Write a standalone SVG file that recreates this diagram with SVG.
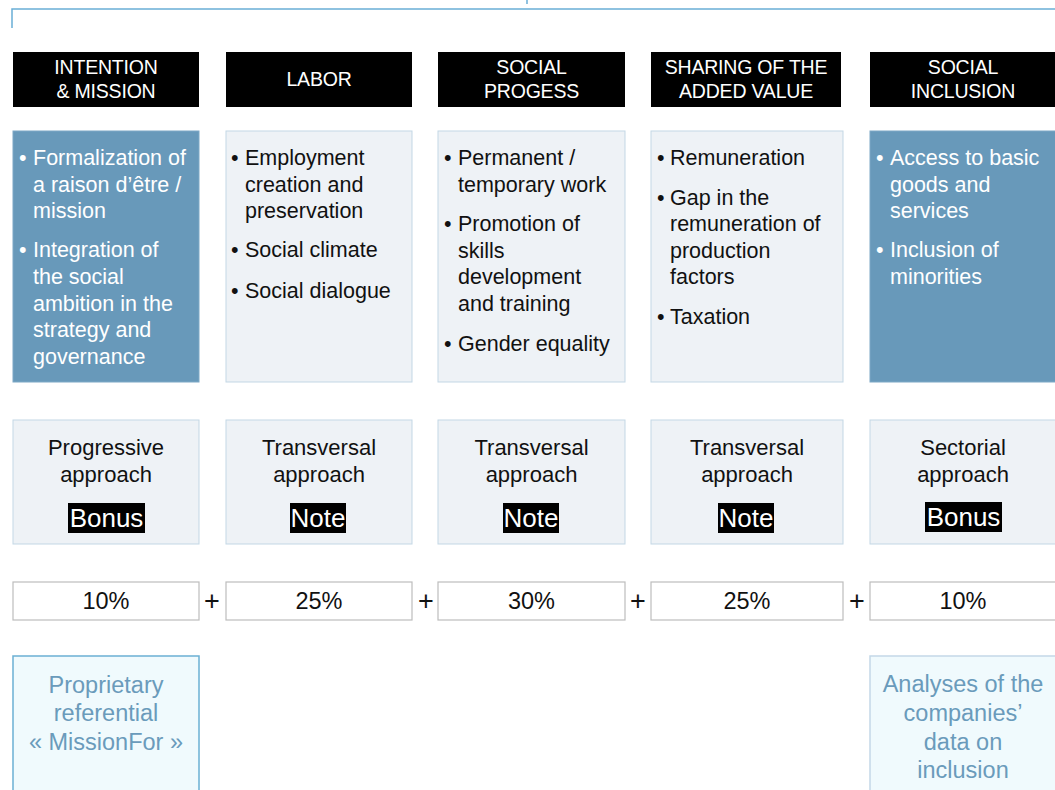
<svg xmlns="http://www.w3.org/2000/svg" width="1055" height="790" viewBox="0 0 1055 790">
<style>
text{font-family:"Liberation Sans",Arial,sans-serif}
.hdr{fill:#000}
.ht{fill:#fff;font-size:19.5px;text-anchor:middle;letter-spacing:-0.2px}
.dark{fill:#6899BA;stroke:#7DA8C6;stroke-width:1}
.light{fill:#EEF2F6;stroke:#C3D7E5;stroke-width:1}
.bt{font-size:21.5px;fill:#111}
.wt{font-size:21.5px;fill:#fff}
.at{font-size:22px;fill:#111;text-anchor:middle}
.tag{fill:#000}
.tt{font-size:26px;fill:#fff;text-anchor:middle}
.pct{fill:#fff;stroke:#BDBDBD;stroke-width:1.2}
.pt{font-size:23.5px;fill:#111;text-anchor:middle}
.plus{font-size:27px;fill:#111;text-anchor:middle}
.src{fill:#F0FAFD}
.st{font-size:23.5px;fill:#6A9BBB;text-anchor:middle}
</style>
<g id="frame">
<path d="M12,28 V9 H1055" fill="none" stroke="#6AAED6" stroke-width="1.5"/>
<line x1="527" y1="0" x2="527" y2="4" stroke="#6AAED6" stroke-width="1.5"/>
</g>
<g id="connectors">
<text class="plus" x="212" y="610">+</text>
<text class="plus" x="426" y="610">+</text>
<text class="plus" x="638" y="610">+</text>
<text class="plus" x="857" y="610">+</text>
</g>
<g id="col1">
<rect class="hdr" x="13" y="52" width="186" height="55"/>
<text class="ht" x="106" y="74">INTENTION</text>
<text class="ht" x="106" y="98">&amp; MISSION</text>
<rect class="dark" x="13" y="131" width="186" height="251"/>
<text class="wt"><tspan x="19" y="165">•</tspan><tspan x="33" y="165">Formalization of</tspan><tspan x="33" y="192">a raison d’être /</tspan><tspan x="33" y="218">mission</tspan><tspan x="19" y="257">•</tspan><tspan x="33" y="257">Integration of</tspan><tspan x="33" y="284">the social</tspan><tspan x="33" y="311">ambition in the</tspan><tspan x="33" y="337">strategy and</tspan><tspan x="33" y="364">governance</tspan></text>
<rect class="light" x="13" y="420" width="186" height="124"/>
<text class="at" x="106" y="455">Progressive</text>
<text class="at" x="106" y="482">approach</text>
<rect class="tag" x="68" y="503" width="77" height="30"/>
<text class="tt" x="106.5" y="527">Bonus</text>
<rect class="pct" x="13" y="582" width="186" height="38"/>
<text class="pt" x="106" y="609">10%</text>
<rect class="src" x="13" y="656" width="186" height="140" stroke="#6BB0D3" stroke-width="1.5"/>
<text class="st" x="106" y="693">Proprietary</text>
<text class="st" x="106" y="721">referential</text>
<text class="st" x="106" y="750">« MissionFor »</text>
</g>
<g id="col2">
<rect class="hdr" x="226" y="52" width="186" height="55"/>
<text class="ht" x="319" y="86">LABOR</text>
<rect class="light" x="226" y="131" width="186" height="251"/>
<text class="bt"><tspan x="231" y="165">•</tspan><tspan x="245" y="165">Employment</tspan><tspan x="245" y="192">creation and</tspan><tspan x="245" y="218">preservation</tspan><tspan x="231" y="257">•</tspan><tspan x="245" y="257">Social climate</tspan><tspan x="231" y="298">•</tspan><tspan x="245" y="298">Social dialogue</tspan></text>
<rect class="light" x="226" y="420" width="186" height="124"/>
<text class="at" x="319" y="455">Transversal</text>
<text class="at" x="319" y="482">approach</text>
<rect class="tag" x="290" y="503" width="56" height="30"/>
<text class="tt" x="318" y="527">Note</text>
<rect class="pct" x="226" y="582" width="186" height="38"/>
<text class="pt" x="319" y="609">25%</text>
</g>
<g id="col3">
<rect class="hdr" x="438" y="52" width="187" height="55"/>
<text class="ht" x="531.5" y="74">SOCIAL</text>
<text class="ht" x="531.5" y="98">PROGESS</text>
<rect class="light" x="438" y="131" width="187" height="251"/>
<text class="bt"><tspan x="444" y="165">•</tspan><tspan x="458" y="165">Permanent /</tspan><tspan x="458" y="192">temporary work</tspan><tspan x="444" y="231">•</tspan><tspan x="458" y="231">Promotion of</tspan><tspan x="458" y="258">skills</tspan><tspan x="458" y="284">development</tspan><tspan x="458" y="311">and training</tspan><tspan x="444" y="351">•</tspan><tspan x="458" y="351">Gender equality</tspan></text>
<rect class="light" x="438" y="420" width="187" height="124"/>
<text class="at" x="531.5" y="455">Transversal</text>
<text class="at" x="531.5" y="482">approach</text>
<rect class="tag" x="503" y="503" width="56" height="30"/>
<text class="tt" x="531" y="527">Note</text>
<rect class="pct" x="438" y="582" width="187" height="38"/>
<text class="pt" x="531.5" y="609">30%</text>
</g>
<g id="col4">
<rect class="hdr" x="651" y="52" width="190" height="55"/>
<text class="ht" x="746" y="74">SHARING OF THE</text>
<text class="ht" x="746" y="98">ADDED VALUE</text>
<rect class="light" x="651" y="131" width="192" height="251"/>
<text class="bt"><tspan x="657" y="165">•</tspan><tspan x="670" y="165">Remuneration</tspan><tspan x="657" y="205">•</tspan><tspan x="670" y="205">Gap in the</tspan><tspan x="670" y="231">remuneration of</tspan><tspan x="670" y="258">production</tspan><tspan x="670" y="284">factors</tspan><tspan x="657" y="324">•</tspan><tspan x="670" y="324">Taxation</tspan></text>
<rect class="light" x="651" y="420" width="192" height="124"/>
<text class="at" x="747" y="455">Transversal</text>
<text class="at" x="747" y="482">approach</text>
<rect class="tag" x="718" y="503" width="56" height="30"/>
<text class="tt" x="746" y="527">Note</text>
<rect class="pct" x="651" y="582" width="192" height="38"/>
<text class="pt" x="747" y="609">25%</text>
</g>
<g id="col5">
<rect class="hdr" x="870" y="52" width="190" height="55"/>
<text class="ht" x="963" y="74">SOCIAL</text>
<text class="ht" x="963" y="98">INCLUSION</text>
<rect class="dark" x="870" y="131" width="190" height="251"/>
<text class="wt"><tspan x="876" y="165">•</tspan><tspan x="890" y="165">Access to basic</tspan><tspan x="890" y="192">goods and</tspan><tspan x="890" y="218">services</tspan><tspan x="876" y="257">•</tspan><tspan x="890" y="257">Inclusion of</tspan><tspan x="890" y="284">minorities</tspan></text>
<rect class="light" x="870" y="420" width="190" height="124"/>
<text class="at" x="963" y="455">Sectorial</text>
<text class="at" x="963" y="482">approach</text>
<rect class="tag" x="925" y="502" width="77" height="30"/>
<text class="tt" x="963.5" y="526">Bonus</text>
<rect class="pct" x="870" y="582" width="190" height="38"/>
<text class="pt" x="963" y="609">10%</text>
<rect class="src" x="870" y="656" width="190" height="140" stroke="#C3D8E7" stroke-width="1.5"/>
<text class="st" x="963" y="692">Analyses of the</text>
<text class="st" x="963" y="721">companies’</text>
<text class="st" x="963" y="750">data on</text>
<text class="st" x="963" y="778">inclusion</text>
</g>
</svg>
